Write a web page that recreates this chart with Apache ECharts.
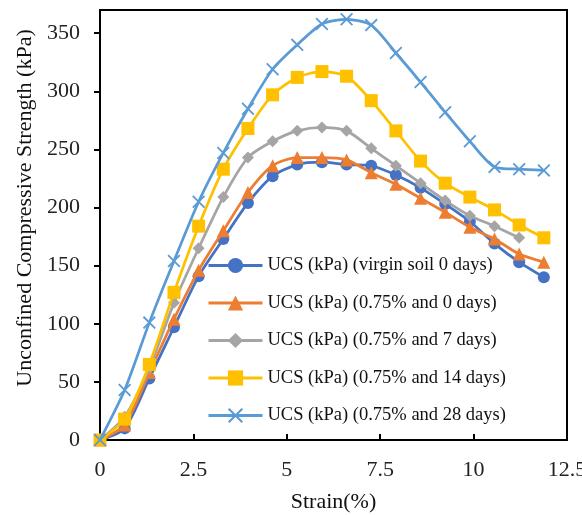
<!DOCTYPE html>
<html>
<head>
<meta charset="utf-8">
<script src="https://cdn.jsdelivr.net/npm/echarts@6/dist/echarts.min.js"></script>
<style>html,body{margin:0;padding:0;background:#fff}#c{width:582px;height:515px}</style>
</head>
<body>
<div id="c"></div>
<script>
const strain = [0,0.66,1.32,1.98,2.64,3.3,3.96,4.62,5.28,5.94,6.6,7.26,7.92,8.58,9.24,9.9,10.56,11.22,11.88];
const virgin0 = [0,10,53,97,141,173,204,227,237,239,237,236,228,217,203,188,169,153,140];
const fib0 = [0,13,58,104,146,180,213,236,243,243,241,230,220,208,196,183,173,160,153];
const fib7 = [0,20,62,118,165,209,243,257,266,269,266,251,236,221,206,193,184,174];
const fib14 = [0,18,65,127,184,233,268,297,312,317,313,292,266,240,221,209,198,185,174];
const fib28 = [0,43,101,154,205,247,285,319,340,358,362,357,333,308,282,257,235,233,232];
const seriesNames = [
  'UCS (kPa) (virgin soil 0 days)',
  'UCS (kPa) (0.75% and 0 days)',
  'UCS (kPa) (0.75% and 7 days)',
  'UCS (kPa) (0.75% and 14 days)',
  'UCS (kPa) (0.75% and 28 days)'
];
const xTicks = [0,2.5,5,7.5,10,12.5];
const yTicks = [0,50,100,150,200,250,300,350];

const font = 'Liberation Serif';
const colors = ['#4472C4','#ED7D31','#A5A5A5','#FFC000','#5B9BD5'];
const symbols = ['circle','triangle','diamond','rect',
  'path://M0,1 L1,0 L10,9 L9,10 Z M9,0 L10,1 L1,10 L0,9 Z'];
const sizes = [12,13,12,13,13];
const allData = [virgin0, fib0, fib7, fib14, fib28];

function pairs(ys){ return ys.map((v,i)=>[strain[i], v]); }

const chart = echarts.init(document.getElementById('c'), null, {renderer:'canvas'});
chart.setOption({
  animation:false,
  backgroundColor:'#fff',
  grid:{left:100, right:15, top:10, bottom:75, containLabel:false, outerBoundsMode:'none',
    show:true, borderColor:'#000', borderWidth:2, backgroundColor:'transparent'},
  legend:{
    orient:'vertical', left:202, top:251,
    itemWidth:54, itemHeight:19, itemGap:18.5,
    lineStyle:{width:3},
    textStyle:{fontFamily:font, fontSize:18.5, color:'#111'},
    data: seriesNames
  },
  xAxis:{
    type:'value', min:0, max:12.5, interval:2.5,
    name:'Strain(%)', nameLocation:'middle', nameGap:51,
    nameTextStyle:{fontFamily:font, fontSize:22, color:'#111'},
    axisLine:{lineStyle:{color:'#000', width:2}},
    axisTick:{inside:true, length:6, lineStyle:{color:'#000', width:2}},
    axisLabel:{fontFamily:font, fontSize:22, color:'#222', margin:19,
      formatter:v=> xTicks.includes(v) ? String(v) : ''},
    splitLine:{show:false}
  },
  yAxis:{
    type:'value', min:0, max:370, interval:50,
    name:'Unconfined Compressive Strength (kPa)', nameLocation:'middle', nameGap:64,
    nameTextStyle:{fontFamily:font, fontSize:22, color:'#111', padding:[0,0,0,34]},
    axisLine:{lineStyle:{color:'#000', width:2}},
    axisTick:{inside:false, length:6, lineStyle:{color:'#000', width:2}},
    axisLabel:{fontFamily:font, fontSize:22, color:'#222', margin:20, showMaxLabel:false,
      formatter:v=> yTicks.includes(v) ? String(v) : ''},
    splitLine:{show:false}
  },
  series: allData.map((d,i)=>({
    name: seriesNames[i], type:'line', data: pairs(d),
    smooth:0.25, symbol:symbols[i], symbolSize:sizes[i], showAllSymbol:true,
    lineStyle:{color:colors[i], width:2.75},
    itemStyle:{color:colors[i], borderWidth:0},
    z: 2 + i
  }))
});
</script>
</body>
</html>
